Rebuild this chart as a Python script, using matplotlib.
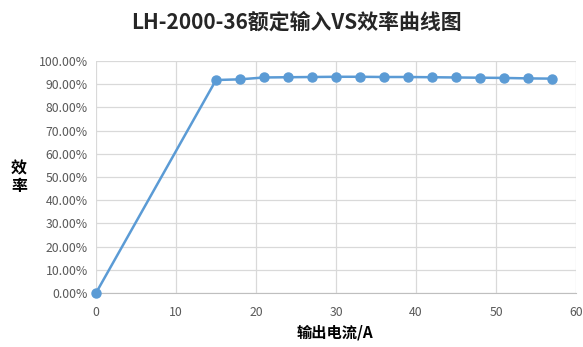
import matplotlib
matplotlib.use("Agg")
import matplotlib.pyplot as plt
from matplotlib.ticker import FuncFormatter, MultipleLocator

plt.rcParams["font.family"] = ["Noto Sans CJK SC", "DejaVu Sans"]

# output current (A) vs efficiency (%)
current = [0, 15, 18, 21, 24, 27, 30, 33, 36, 39, 42, 45, 48, 51, 54, 57]
efficiency = [0.0, 91.8, 92.1, 92.9, 93.0, 93.1, 93.2, 93.2, 93.1, 93.1,
              93.0, 92.9, 92.8, 92.7, 92.5, 92.4]

title = "LH-2000-36额定输入VS效率曲线图"
xlabel = "输出电流/A"
ylabel = "效\n率"

fig = plt.figure(figsize=(5.83, 3.47), dpi=100)
ax = fig.add_axes([96 / 583, 1 - 293 / 347, 480 / 583, 232 / 347])

ax.plot(current, efficiency, color="#5b9bd5", lw=1.8, marker="o",
        markersize=6.5, zorder=3, clip_on=False)

ax.set_xlim(0, 60)
ax.set_ylim(0, 100)
ax.xaxis.set_major_locator(MultipleLocator(10))
ax.yaxis.set_major_locator(MultipleLocator(10))
ax.yaxis.set_major_formatter(FuncFormatter(lambda v, _: f"{v:.2f}%"))

ax.grid(True, color="#d9d9d9", lw=0.9)
ax.set_axisbelow(True)
for side in ("top", "right", "left"):
    ax.spines[side].set_visible(False)
ax.spines["bottom"].set_color("#bfbfbf")
ax.tick_params(length=0, labelsize=8.8, labelcolor="#595959", pad=6)
ax.tick_params(axis="x", pad=9)

fig.text(296 / 583, 1 - 22 / 347, title, ha="center", va="center",
         fontsize=15, fontweight="bold", color="#262626")
fig.text(335 / 583, 1 - 333 / 347, xlabel, ha="center", va="center",
         fontsize=11, fontweight="bold", color="black")
fig.text(19 / 583, 1 - 177 / 347, ylabel, ha="center", va="center",
         fontsize=11.5, fontweight="bold", color="black", linespacing=1.1)

fig.savefig("out.png", dpi=100)
